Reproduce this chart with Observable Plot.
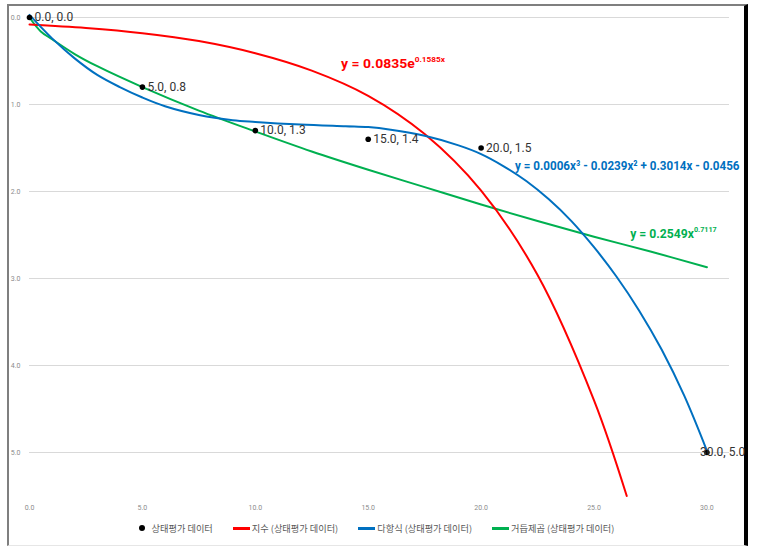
<!DOCTYPE html>
<html>
<head>
<meta charset="utf-8">
<script src="https://cdn.jsdelivr.net/npm/d3@7"></script>
<script src="https://cdn.jsdelivr.net/npm/@observablehq/plot@0.6"></script>
<style>
  html, body { margin: 0; padding: 0; background: #fff; }
  body { width: 758px; height: 549px; position: relative; overflow: hidden; font-family: Roboto, "Noto Sans", sans-serif; }
  #frame { position: absolute; left: 7px; top: 4px; width: 735px; height: 539px;
           border-left: 2px solid #7f7f7f; border-top: 2px solid #7f7f7f;
           border-right: 4px solid #000; border-bottom: 1px solid #e6e6e6; }
  #chart { position: absolute; left: 0; top: 0; }
  #legend { position: absolute; left: 9px; top: 518px; width: 735px; height: 20px;
            display: flex; justify-content: center; align-items: center;
            font-family: "Noto Sans CJK KR", sans-serif; font-size: 9.2px; color: #595959; }
  .item { display: flex; align-items: center; margin: 0 10px; }
  .dot { width: 6px; height: 6px; border-radius: 50%; background: #000; margin-right: 7px; }
  .sw { width: 17px; height: 3px; margin-right: 2px; }
</style>
</head>
<body>
<div id="frame"></div>
<div id="chart"></div>
<div id="legend"></div>
<script>
// ---- data ----
const xTicks = [0, 5, 10, 15, 20, 25, 30];
const yTicks = [0, 1, 2, 3, 4, 5];

const pointX = [0, 5, 10, 15, 20, 30];
const pointY = [0.0, 0.8, 1.3, 1.4, 1.5, 5.0];

// 지수 trendline (red)
const expX = [0, 2.5, 5, 7.5, 10, 12.5, 15, 17.5, 20, 22.5, 25, 26.45];
const expY = [0.08, 0.12, 0.18, 0.27, 0.41, 0.61, 0.90, 1.34, 1.99, 2.96, 4.40, 5.5];

// 다항식 trendline (blue)
const polyX = [0, 1, 2, 3, 4, 5, 6, 7.5, 9, 10, 12, 14, 15, 16, 17.5, 19, 20, 21, 22, 23, 24, 25, 26, 27, 28, 29, 30];
const polyY = [-0.03, 0.24, 0.47, 0.66, 0.80, 0.92, 1.02, 1.12, 1.18, 1.20, 1.23, 1.25, 1.26, 1.29, 1.36, 1.47, 1.57, 1.71, 1.88, 2.09, 2.34, 2.64, 2.98, 3.37, 3.82, 4.35, 4.98];

// 거듭제곱 trendline (green)
const powX = [0, 0.5, 1, 2, 3, 5, 7.5, 10, 12.5, 15, 17.5, 20, 22.5, 25, 27.5, 30];
const powY = [0, 0.16, 0.25, 0.42, 0.56, 0.80, 1.07, 1.31, 1.54, 1.75, 1.95, 2.15, 2.34, 2.52, 2.69, 2.87];

// equation labels: {..} marks superscript
const eqText = ["y = 0.0835e{0.1585x}", "y = 0.0006x³ - 0.0239x² + 0.3014x - 0.0456", "y = 0.2549x{0.7117}"];
const eqX = [13.8, 21.5, 26.6];
const eqY = [0.53, 1.70, 2.48];
const eqColor = ["#ff0000", "#0070c0", "#00b050"];

const legendLabels = ["상태평가 데이터", "지수 (상태평가 데이터)", "다항식 (상태평가 데이터)", "거듭제곱 (상태평가 데이터)"];
const legendColors = ["#000000", "#ff0000", "#0070c0", "#00b050"];

// ---- tables ----
const zip = (xs, ys) => xs.map((x, i) => ({x, y: ys[i]}));
const points = zip(pointX, pointY);
const expData = zip(expX, expY);
const polyData = zip(polyX, polyY);
const powData = zip(powX, powY);
const eqs = eqText.map((t, i) => ({text: t, x: eqX[i], y: eqY[i], color: eqColor[i]}));
const fmt = d => d.toFixed(1);

const plot = Plot.plot({
  width: 758,
  height: 515,
  marginLeft: 29,
  marginRight: 29,
  marginTop: 17,
  marginBottom: 19.5,
  style: {fontFamily: "Roboto, sans-serif", color: "#8c8c8c", background: "transparent"},
  x: {domain: [0, 31]},
  y: {domain: [0, 5.5], reverse: true},
  marks: [
    Plot.gridY(yTicks, {stroke: "#d9d9d9", strokeOpacity: 1}),
    Plot.axisY(yTicks, {tickSize: 0, tickPadding: 9, fontSize: 7, tickFormat: fmt, label: null}),
    Plot.axisX(xTicks, {tickSize: 0, tickPadding: 9, fontSize: 7, tickFormat: fmt, label: null}),
    Plot.line(powData, {x: "x", y: "y", stroke: "#00b050", strokeWidth: 2, curve: "catmull-rom"}),
    Plot.line(expData, {x: "x", y: "y", stroke: "#ff0000", strokeWidth: 2, curve: "catmull-rom"}),
    Plot.line(polyData, {x: "x", y: "y", stroke: "#0070c0", strokeWidth: 2, curve: "catmull-rom"}),
    Plot.dot(points, {x: "x", y: "y", r: 2.8, fill: "#000"}),
    Plot.text(points.slice(0, -1), {x: "x", y: "y", text: d => `${fmt(d.x)}, ${fmt(d.y)}`, textAnchor: "start", dx: 5, fill: "#333", fontSize: 12}),
    Plot.text(points.slice(-1), {x: "x", y: "y", text: d => `${fmt(d.x)}, ${fmt(d.y)}`, textAnchor: "start", dx: -7, fill: "#333", fontSize: 12}),
    Plot.text(eqs, {x: "x", y: "y", text: "text", fill: "color", textAnchor: "start", fontSize: 13.5, fontWeight: "bold"})
  ]
});
document.getElementById("chart").appendChild(plot);

// turn {..} into superscript tspans and squeeze the equations horizontally
const eqFit = {"y = 0.0835e{0.1585x}": 105, "y = 0.0006x³ - 0.0239x² + 0.3014x - 0.0456": 225, "y = 0.2549x{0.7117}": 87};
d3.select(plot).selectAll("text").each(function () {
  const t = this.textContent;
  if (!eqFit[t]) return;
  const el = d3.select(this);
  if (t.includes("{")) {
    el.text(null);
    const parts = t.split(/(\{[^}]*\})/).filter(s => s.length);
    let raised = false;
    parts.forEach(p => {
      if (p.startsWith("{")) {
        el.append("tspan").attr("font-size", 8).attr("dy", -5.5).text(p.slice(1, -1));
        raised = true;
      } else {
        const ts = el.append("tspan").text(p);
        if (raised) { ts.attr("dy", 5.5); raised = false; }
      }
    });
  }
  const bb = this.getBBox();
  const s = eqFit[t] / bb.width;
  const prev = el.attr("transform") || "";
  el.attr("transform", `${prev} translate(${bb.x},0) scale(${s},1) translate(${-bb.x},0)`);
});

// legend
const legend = d3.select("#legend");
legendLabels.forEach((lab, i) => {
  const it = legend.append("div").attr("class", "item");
  if (i === 0) it.append("div").attr("class", "dot");
  else it.append("div").attr("class", "sw").style("background", legendColors[i]);
  it.append("span").text(lab);
});
</script>
</body>
</html>
